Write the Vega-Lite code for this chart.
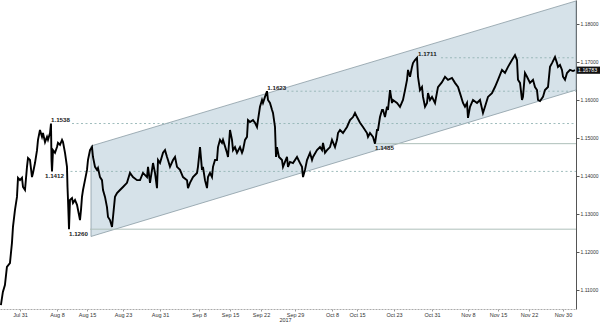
{
  "$schema": "https://vega.github.io/schema/vega-lite/v6.json",
  "width": 576,
  "height": 309,
  "autosize": {"type": "none"},
  "padding": {"left": 0, "top": 0, "right": 24, "bottom": 14},
  "background": "white",
  "config": {"view": {"stroke": null}},
  "datasets": {
    "price": [
      {"d": -4.11, "v": 1.1060}, {"d": -3.68, "v": 1.1095}, {"d": -3.24, "v": 1.1113}, {"d": -2.81, "v": 1.1161},
      {"d": -2.16, "v": 1.1171}, {"d": -1.73, "v": 1.1224}, {"d": -1.51, "v": 1.1266}, {"d": -1.08, "v": 1.1311},
      {"d": -0.65, "v": 1.1345}, {"d": -0.43, "v": 1.1395}, {"d": 0, "v": 1.1389}, {"d": 0.43, "v": 1.1395},
      {"d": 0.65, "v": 1.1371}, {"d": 1.08, "v": 1.1363}, {"d": 1.51, "v": 1.1424}, {"d": 1.73, "v": 1.1447},
      {"d": 2.16, "v": 1.1442}, {"d": 2.59, "v": 1.1397}, {"d": 2.81, "v": 1.1408}, {"d": 3.24, "v": 1.1434},
      {"d": 3.68, "v": 1.1468}, {"d": 3.89, "v": 1.1495}, {"d": 4.32, "v": 1.1521}, {"d": 4.76, "v": 1.1503},
      {"d": 4.97, "v": 1.1513}, {"d": 5.41, "v": 1.1489}, {"d": 5.84, "v": 1.1503}, {"d": 6.05, "v": 1.1495},
      {"d": 6.49, "v": 1.1513}, {"d": 6.70, "v": 1.1538}, {"d": 6.81, "v": 1.1442}, {"d": 6.92, "v": 1.1412},
      {"d": 7.14, "v": 1.1468}, {"d": 7.57, "v": 1.1461}, {"d": 8.0, "v": 1.1476}, {"d": 8.23, "v": 1.1487},
      {"d": 8.70, "v": 1.1482}, {"d": 9.17, "v": 1.1495}, {"d": 9.40, "v": 1.1489}, {"d": 9.87, "v": 1.1461},
      {"d": 10.33, "v": 1.1424}, {"d": 10.45, "v": 1.1371}, {"d": 10.57, "v": 1.1337}, {"d": 10.80, "v": 1.1260},
      {"d": 11.03, "v": 1.1337}, {"d": 11.50, "v": 1.1342}, {"d": 11.73, "v": 1.1329}, {"d": 12.20, "v": 1.1337},
      {"d": 12.67, "v": 1.1324}, {"d": 12.90, "v": 1.1311}, {"d": 13.37, "v": 1.1284}, {"d": 13.60, "v": 1.1311},
      {"d": 13.83, "v": 1.1345}, {"d": 14.07, "v": 1.1363}, {"d": 14.53, "v": 1.1389}, {"d": 15.0, "v": 1.1416},
      {"d": 15.22, "v": 1.1442}, {"d": 15.67, "v": 1.1468}, {"d": 16.11, "v": 1.1476}, {"d": 16.33, "v": 1.1450},
      {"d": 16.78, "v": 1.1424}, {"d": 17.22, "v": 1.1416}, {"d": 17.44, "v": 1.1421}, {"d": 17.89, "v": 1.1397},
      {"d": 18.33, "v": 1.1389}, {"d": 18.56, "v": 1.1363}, {"d": 19.0, "v": 1.1345}, {"d": 19.44, "v": 1.1318},
      {"d": 19.67, "v": 1.1292}, {"d": 20.11, "v": 1.1284}, {"d": 20.56, "v": 1.1266}, {"d": 20.78, "v": 1.1292},
      {"d": 21.22, "v": 1.1345}, {"d": 21.67, "v": 1.1355}, {"d": 22.33, "v": 1.1363}, {"d": 23.0, "v": 1.1371},
      {"d": 23.86, "v": 1.1382}, {"d": 24.51, "v": 1.1408}, {"d": 25.16, "v": 1.1397}, {"d": 26.03, "v": 1.1389},
      {"d": 26.68, "v": 1.1389}, {"d": 27.32, "v": 1.1408}, {"d": 28.19, "v": 1.1397}, {"d": 28.41, "v": 1.1424},
      {"d": 28.84, "v": 1.1382}, {"d": 29.27, "v": 1.1416}, {"d": 29.49, "v": 1.1434}, {"d": 29.92, "v": 1.1408},
      {"d": 30.35, "v": 1.1368}, {"d": 30.57, "v": 1.1442}, {"d": 31.0, "v": 1.1434}, {"d": 31.62, "v": 1.1461},
      {"d": 32.03, "v": 1.1468}, {"d": 32.44, "v": 1.1450}, {"d": 32.64, "v": 1.1442}, {"d": 33.05, "v": 1.1424},
      {"d": 33.67, "v": 1.1442}, {"d": 34.08, "v": 1.1450}, {"d": 34.49, "v": 1.1424}, {"d": 35.10, "v": 1.1416},
      {"d": 35.72, "v": 1.1397}, {"d": 36.54, "v": 1.1389}, {"d": 36.74, "v": 1.1368}, {"d": 37.15, "v": 1.1382},
      {"d": 37.77, "v": 1.1397}, {"d": 38.59, "v": 1.1408}, {"d": 38.79, "v": 1.1424}, {"d": 39.23, "v": 1.1476},
      {"d": 39.68, "v": 1.1416}, {"d": 39.90, "v": 1.1424}, {"d": 40.35, "v": 1.1389}, {"d": 40.81, "v": 1.1368},
      {"d": 41.03, "v": 1.1397}, {"d": 41.48, "v": 1.1408}, {"d": 41.93, "v": 1.1397}, {"d": 42.16, "v": 1.1424},
      {"d": 42.61, "v": 1.1442}, {"d": 43.06, "v": 1.1442}, {"d": 43.29, "v": 1.1476}, {"d": 43.74, "v": 1.1495},
      {"d": 44.19, "v": 1.1487}, {"d": 44.42, "v": 1.1495}, {"d": 45.32, "v": 1.1461}, {"d": 45.55, "v": 1.1450},
      {"d": 46.0, "v": 1.1521}, {"d": 46.45, "v": 1.1495}, {"d": 46.68, "v": 1.1468}, {"d": 47.13, "v": 1.1476},
      {"d": 47.58, "v": 1.1461}, {"d": 48.26, "v": 1.1476}, {"d": 48.71, "v": 1.1461}, {"d": 48.93, "v": 1.1468},
      {"d": 49.39, "v": 1.1495}, {"d": 49.84, "v": 1.1503}, {"d": 50.06, "v": 1.1547}, {"d": 50.51, "v": 1.1542},
      {"d": 51.19, "v": 1.1547}, {"d": 51.64, "v": 1.1540}, {"d": 52.10, "v": 1.1529}, {"d": 52.32, "v": 1.1547},
      {"d": 52.77, "v": 1.1582}, {"d": 53.21, "v": 1.1600}, {"d": 53.41, "v": 1.1592}, {"d": 53.82, "v": 1.1608},
      {"d": 54.23, "v": 1.1623}, {"d": 54.44, "v": 1.1600}, {"d": 54.85, "v": 1.1592}, {"d": 55.26, "v": 1.1574},
      {"d": 55.47, "v": 1.1566}, {"d": 55.88, "v": 1.1529}, {"d": 56.09, "v": 1.1450}, {"d": 56.29, "v": 1.1476},
      {"d": 56.70, "v": 1.1450}, {"d": 57.32, "v": 1.1442}, {"d": 57.53, "v": 1.1424}, {"d": 58.35, "v": 1.1450},
      {"d": 58.56, "v": 1.1424}, {"d": 58.97, "v": 1.1437}, {"d": 59.59, "v": 1.1434}, {"d": 60.49, "v": 1.1450},
      {"d": 61.22, "v": 1.1434}, {"d": 61.70, "v": 1.1424}, {"d": 61.95, "v": 1.1397}, {"d": 62.43, "v": 1.1416},
      {"d": 62.92, "v": 1.1442}, {"d": 63.65, "v": 1.1461}, {"d": 64.14, "v": 1.1442}, {"d": 64.38, "v": 1.1450},
      {"d": 65.35, "v": 1.1468}, {"d": 66.08, "v": 1.1476}, {"d": 66.57, "v": 1.1468}, {"d": 66.81, "v": 1.1487},
      {"d": 67.30, "v": 1.1461}, {"d": 67.79, "v": 1.1468}, {"d": 68.52, "v": 1.1476}, {"d": 69.0, "v": 1.1495},
      {"d": 69.84, "v": 1.1476}, {"d": 70.40, "v": 1.1495}, {"d": 70.68, "v": 1.1513}, {"d": 71.24, "v": 1.1521},
      {"d": 72.08, "v": 1.1513}, {"d": 72.64, "v": 1.1521}, {"d": 73.20, "v": 1.1529}, {"d": 74.04, "v": 1.1547},
      {"d": 74.88, "v": 1.1555}, {"d": 75.44, "v": 1.1566}, {"d": 76.0, "v": 1.1555}, {"d": 76.65, "v": 1.1540},
      {"d": 77.30, "v": 1.1529}, {"d": 78.16, "v": 1.1513}, {"d": 78.38, "v": 1.1503}, {"d": 78.81, "v": 1.1513},
      {"d": 79.46, "v": 1.1503}, {"d": 79.89, "v": 1.1485}, {"d": 80.32, "v": 1.1521}, {"d": 80.54, "v": 1.1521},
      {"d": 80.97, "v": 1.1555}, {"d": 81.41, "v": 1.1574}, {"d": 81.62, "v": 1.1574}, {"d": 82.05, "v": 1.1555},
      {"d": 82.49, "v": 1.1582}, {"d": 82.70, "v": 1.1574}, {"d": 83.14, "v": 1.1626}, {"d": 83.57, "v": 1.1592},
      {"d": 83.78, "v": 1.1600}, {"d": 84.63, "v": 1.1592}, {"d": 85.26, "v": 1.1582}, {"d": 85.89, "v": 1.1600},
      {"d": 86.32, "v": 1.1626}, {"d": 86.74, "v": 1.1653}, {"d": 86.95, "v": 1.1679}, {"d": 87.37, "v": 1.1661},
      {"d": 87.79, "v": 1.1687}, {"d": 88.0, "v": 1.1697}, {"d": 88.42, "v": 1.1705}, {"d": 88.84, "v": 1.1711},
      {"d": 89.05, "v": 1.1661}, {"d": 89.47, "v": 1.1626}, {"d": 89.89, "v": 1.1634}, {"d": 90.11, "v": 1.1608},
      {"d": 90.53, "v": 1.1582}, {"d": 90.95, "v": 1.1592}, {"d": 91.16, "v": 1.1618}, {"d": 91.58, "v": 1.1600},
      {"d": 92.0, "v": 1.1608}, {"d": 92.67, "v": 1.1592}, {"d": 93.33, "v": 1.1634}, {"d": 94.22, "v": 1.1647},
      {"d": 94.89, "v": 1.1661}, {"d": 95.56, "v": 1.1653}, {"d": 96.44, "v": 1.1658}, {"d": 97.11, "v": 1.1645},
      {"d": 97.78, "v": 1.1634}, {"d": 98.22, "v": 1.1618}, {"d": 98.89, "v": 1.1592}, {"d": 99.33, "v": 1.1582},
      {"d": 99.78, "v": 1.1592}, {"d": 100.0, "v": 1.1553}, {"d": 100.47, "v": 1.1582}, {"d": 101.17, "v": 1.1600},
      {"d": 102.10, "v": 1.1592}, {"d": 102.80, "v": 1.1600}, {"d": 103.50, "v": 1.1566}, {"d": 103.96, "v": 1.1582},
      {"d": 104.66, "v": 1.1608}, {"d": 105.59, "v": 1.1618}, {"d": 106.29, "v": 1.1634}, {"d": 107.0, "v": 1.1653},
      {"d": 107.90, "v": 1.1679}, {"d": 108.58, "v": 1.1671}, {"d": 109.26, "v": 1.1687}, {"d": 110.16, "v": 1.1705},
      {"d": 110.84, "v": 1.1718}, {"d": 111.29, "v": 1.1705}, {"d": 111.51, "v": 1.1653}, {"d": 111.97, "v": 1.1645},
      {"d": 112.42, "v": 1.1600}, {"d": 112.64, "v": 1.1608}, {"d": 113.09, "v": 1.1671}, {"d": 113.55, "v": 1.1661},
      {"d": 114.24, "v": 1.1645}, {"d": 114.94, "v": 1.1653}, {"d": 115.41, "v": 1.1634}, {"d": 115.88, "v": 1.1626},
      {"d": 116.12, "v": 1.1600}, {"d": 116.59, "v": 1.1597}, {"d": 117.29, "v": 1.1608}, {"d": 117.76, "v": 1.1626},
      {"d": 118.47, "v": 1.1634}, {"d": 118.94, "v": 1.1687}, {"d": 119.41, "v": 1.1697}, {"d": 120.12, "v": 1.1713},
      {"d": 120.59, "v": 1.1697}, {"d": 120.82, "v": 1.1687}, {"d": 121.29, "v": 1.1692}, {"d": 121.76, "v": 1.1679},
      {"d": 122.0, "v": 1.1661}, {"d": 122.47, "v": 1.1653}, {"d": 122.94, "v": 1.1671}, {"d": 123.65, "v": 1.1679},
      {"d": 124.35, "v": 1.1676}, {"d": 124.82, "v": 1.16783}
    ],
    "channel": [
      {"d": 15.89, "v": 1.12408, "v2": 1.14789},
      {"d": 125.06, "v": 1.16263, "v2": 1.18605}
    ],
    "dashed": [
      {"d": 11.5, "d2": 125.06, "v": 1.1538},
      {"d": 10.1, "d2": 125.06, "v": 1.1412},
      {"d": 58.35, "d2": 125.06, "v": 1.1623},
      {"d": 94.0, "d2": 125.06, "v": 1.1711}
    ],
    "solid": [
      {"d": 15.67, "d2": 125.06, "v": 1.1260},
      {"d": 80.1, "d2": 125.06, "v": 1.1485}
    ],
    "labels": [
      {"d": 6.70, "v": 1.1538, "label": "1.1538", "pos": "above"},
      {"d": 5.41, "v": 1.1412, "label": "1.1412", "pos": "below"},
      {"d": 10.80, "v": 1.1260, "label": "1.1260", "pos": "below"},
      {"d": 54.3, "v": 1.1623, "label": "1.1623", "pos": "above"},
      {"d": 89.05, "v": 1.1711, "label": "1.1711", "pos": "above"},
      {"d": 79.89, "v": 1.1485, "label": "1.1485", "pos": "below"}
    ],
    "last": [
      {"d": 125.06, "v": 1.16783, "label": "1.16783"}
    ]
  },
  "encoding": {
    "x": {
      "field": "d",
      "type": "quantitative",
      "scale": {
        "domain": [-4.3, 0, 8, 15, 23, 31, 39, 46, 53, 60, 69, 76, 84, 92, 100, 107, 114, 122, 125.06],
        "range": [0, 20, 57, 87, 123, 160, 199, 230, 261, 295, 332, 357, 394, 432, 468, 498, 529, 563, 576],
        "nice": false,
        "zero": false
      },
      "axis": {
        "values": [0, 8, 15, 23, 31, 39, 46, 53, 60, 69, 76, 84, 92, 100, 107, 114, 122],
        "labelExpr": "['Jul 31','Aug 8','Aug 15','Aug 23','Aug 31','Sep 8','Sep 15','Sep 22','Sep 29','Oct 8','Oct 15','Oct 23','Oct 31','Nov 8','Nov 15','Nov 22','Nov 30'][indexof([0,8,15,23,31,39,46,53,60,69,76,84,92,100,107,114,122], datum.value)]",
        "title": "2017",
        "titleFont": "Liberation Sans",
        "titleFontSize": 5.5,
        "titleFontWeight": "normal",
        "titleColor": "#333333",
        "titlePadding": 0,
        "titleX": 285,
        "labelFont": "Liberation Sans",
        "labelFontSize": 5.5,
        "labelColor": "#333333",
        "labelPadding": 1,
        "labelOverlap": false,
        "labelFlush": false,
        "tickSize": 2,
        "tickColor": "#999999",
        "domainColor": "#aaaaaa",
        "domainDash": [2, 1],
        "grid": false
      }
    },
    "y": {
      "field": "v",
      "type": "quantitative",
      "scale": {"domain": [1.105, 1.1863], "nice": false, "zero": false},
      "axis": {
        "orient": "right",
        "values": [1.11, 1.12, 1.13, 1.14, 1.15, 1.16, 1.17, 1.18],
        "format": ".5f",
        "title": null,
        "labelFont": "Liberation Sans",
        "labelFontSize": 5,
        "labelColor": "#333333",
        "labelPadding": 1,
        "tickSize": 3,
        "tickColor": "#555555",
        "domainColor": "#555555",
        "grid": false
      }
    }
  },
  "layer": [
    {
      "data": {"name": "channel"},
      "mark": {"type": "area", "fill": "#d6e2e9", "stroke": "#8a9ca5", "strokeWidth": 0.8, "opacity": 1},
      "encoding": {"y2": {"field": "v2"}}
    },
    {
      "data": {"name": "dashed"},
      "mark": {"type": "rule", "stroke": "#94b4b4", "strokeWidth": 0.9, "strokeDash": [2, 2.5]},
      "encoding": {"x2": {"field": "d2"}}
    },
    {
      "data": {"name": "solid"},
      "mark": {"type": "rule", "stroke": "#aebfba", "strokeWidth": 1},
      "encoding": {"x2": {"field": "d2"}}
    },
    {
      "data": {"name": "price"},
      "mark": {"type": "line", "stroke": "#000000", "strokeWidth": 1.9, "strokeJoin": "miter"},
      "encoding": {}
    },
    {
      "data": {"name": "labels"},
      "transform": [{"filter": "datum.pos == 'above'"}],
      "mark": {"type": "text", "align": "left", "baseline": "middle", "dy": -3.5, "font": "Liberation Sans", "fontSize": 6.2, "fontWeight": "bold", "fill": "#222222"},
      "encoding": {"text": {"field": "label"}}
    },
    {
      "data": {"name": "labels"},
      "transform": [{"filter": "datum.pos == 'below'"}],
      "mark": {"type": "text", "align": "left", "baseline": "middle", "dy": 4.5, "font": "Liberation Sans", "fontSize": 6.2, "fontWeight": "bold", "fill": "#222222"},
      "encoding": {"text": {"field": "label"}}
    },
    {
      "data": {"name": "last"},
      "mark": {"type": "point", "shape": "M0.05,-0.3H2V0.3H0.05Z", "size": 576, "filled": true, "fill": "#111111", "opacity": 1, "strokeWidth": 0}
    },
    {
      "data": {"name": "last"},
      "mark": {"type": "text", "align": "left", "baseline": "middle", "dx": 2, "font": "Liberation Sans", "fontSize": 5.3, "fill": "#ffffff"},
      "encoding": {"text": {"field": "label"}}
    }
  ]
}
